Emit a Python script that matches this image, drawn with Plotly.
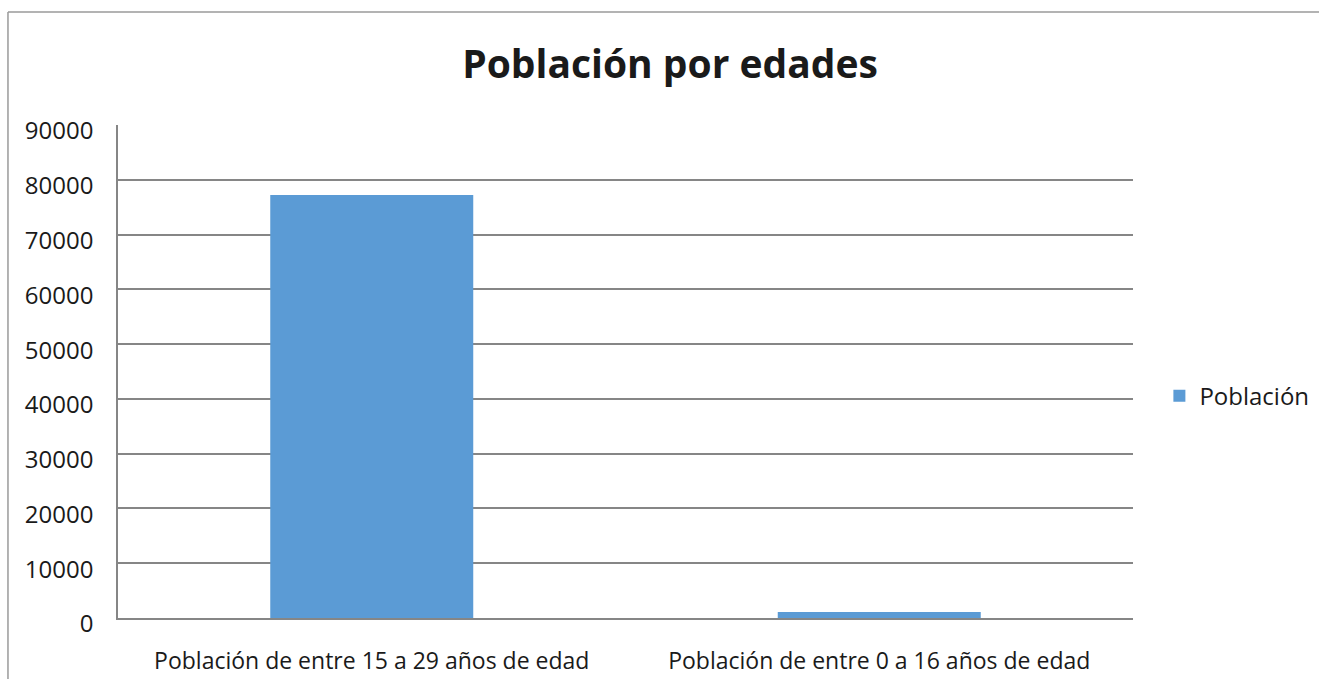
import plotly.graph_objects as go

categories = ["Población de entre 15 a 29 años de edad", "Población de entre 0 a 16 años de edad"]
poblacion = [77200, 1100]
y_ticks = [0, 10000, 20000, 30000, 40000, 50000, 60000, 70000, 80000, 90000]

font = "Open Sans"
grid_color = "#868686"

fig = go.Figure()
fig.add_trace(go.Bar(
    x=categories,
    y=poblacion,
    name="Población",
    marker=dict(color="#5B9BD5", line=dict(width=0)),
    width=0.4,
))

fig.update_layout(
    width=1319,
    height=679,
    margin=dict(l=118, r=186, t=125, b=61, autoexpand=False),
    paper_bgcolor="white",
    plot_bgcolor="white",
    font=dict(family=font, color="#1a1a1a"),
    title=dict(
        text="<b>Población por edades</b>",
        x=0.508, xanchor="center",
        y=0.905, yanchor="middle",
        font=dict(family=font, size=39, color="#1a1a1a"),
    ),
    showlegend=True,
    legend=dict(
        x=1.026, xanchor="left",
        y=0.45, yanchor="middle",
        font=dict(family=font, size=24, color="#1a1a1a"),
        bgcolor="rgba(0,0,0,0)",
        itemwidth=30,
    ),
    bargap=0.6,
)

fig.update_yaxes(
    range=[0, 90000],
    tickvals=y_ticks,
    ticktext=[str(v) for v in y_ticks],
    showgrid=True,
    gridcolor=grid_color,
    gridwidth=1.5,
    showline=True,
    linecolor=grid_color,
    linewidth=1.5,
    zeroline=False,
    ticks="",
    automargin=False,
    ticklabelstandoff=18,
    ticklabelshift=6,
    tickfont=dict(family=font, size=24, color="#1a1a1a"),
)

fig.update_xaxes(
    showgrid=False,
    showline=True,
    linecolor=grid_color,
    linewidth=1.5,
    ticks="",
    automargin=False,
    ticklabelstandoff=22,
    tickfont=dict(family=font, size=23, color="#1a1a1a"),
)

# outer chart frame (left and top edges)
fig.add_shape(type="line", xref="paper", yref="paper",
              x0=-0.1084, x1=-0.1084, y0=-0.2, y1=1.229,
              line=dict(color="#9a9a9a", width=1.5))
fig.add_shape(type="line", xref="paper", yref="paper",
              x0=-0.1084, x1=1.19, y0=1.229, y1=1.229,
              line=dict(color="#9a9a9a", width=1.5))

fig.write_html("out.html")
